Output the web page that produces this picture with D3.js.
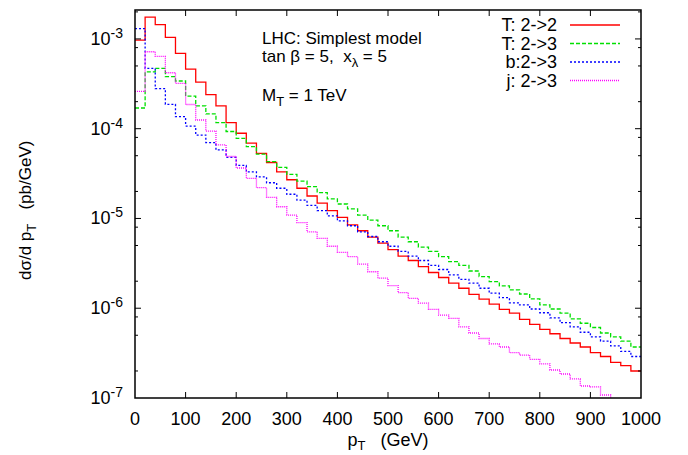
<!DOCTYPE html>
<html>
<head>
<meta charset="utf-8">
<script src="https://cdn.jsdelivr.net/npm/d3@7"></script>
<style>
  body { margin: 0; background: #fff; }
  text { font-family: "Liberation Sans", Arial, Helvetica, sans-serif; fill: #000; white-space: pre; }
</style>
</head>
<body>
<svg id="chart" width="688" height="455"></svg>
<script>

// pT histograms, 20 GeV bins from 0 to 1000 GeV (pb/GeV)
var binLow = d3.range(0, 1000, 20);
var binWidth = 20;

var tt22 = [9.7e-4, 1.75e-3, 1.44e-3, 1.04e-3, 6.9e-4, 4.6e-4, 3.3e-4, 2.4e-4, 1.8e-4, 1.17e-4,
  8.9e-5, 6.9e-5, 5.3e-5, 4.2e-5, 3.3e-5, 2.7e-5, 2.17e-5, 1.78e-5, 1.48e-5, 1.22e-5,
  1.03e-5, 8.5e-6, 7.3e-6, 6.2e-6, 5.3e-6, 4.5e-6, 3.8e-6, 3.4e-6, 2.9e-6, 2.5e-6,
  2.2e-6, 1.9e-6, 1.67e-6, 1.43e-6, 1.26e-6, 1.11e-6, 9.7e-7, 8.8e-7, 7.5e-7, 6.6e-7,
  5.8e-7, 5.2e-7, 4.6e-7, 4.1e-7, 3.7e-7, 3.2e-7, 2.9e-7, 2.5e-7, 2.3e-7, 2.0e-7];

var tt23 = [1.7e-4, 4.3e-4, 4.7e-4, 3.8e-4, 3.4e-4, 2.3e-4, 1.8e-4, 1.46e-4, 1.17e-4, 9.3e-5,
  7.8e-5, 6.3e-5, 5.2e-5, 4.3e-5, 3.7e-5, 3.1e-5, 2.6e-5, 2.26e-5, 1.94e-5, 1.65e-5,
  1.45e-5, 1.28e-5, 1.09e-5, 9.6e-6, 8.3e-6, 7.3e-6, 6.2e-6, 5.5e-6, 4.8e-6, 4.3e-6,
  3.75e-6, 3.3e-6, 3.0e-6, 2.6e-6, 2.25e-6, 1.98e-6, 1.77e-6, 1.6e-6, 1.44e-6, 1.27e-6,
  1.09e-6, 9.8e-7, 8.8e-7, 7.6e-7, 6.8e-7, 6.1e-7, 5.3e-7, 4.8e-7, 4.3e-7, 3.7e-7];

var bj23 = [1.3e-3, 4.7e-4, 2.8e-4, 1.87e-4, 1.36e-4, 1.07e-4, 8.5e-5, 7.0e-5, 5.8e-5, 4.8e-5,
  3.9e-5, 3.3e-5, 2.9e-5, 2.5e-5, 2.17e-5, 1.86e-5, 1.6e-5, 1.4e-5, 1.22e-5, 1.07e-5,
  9.4e-6, 8.3e-6, 7.1e-6, 6.3e-6, 5.5e-6, 4.9e-6, 4.3e-6, 3.8e-6, 3.4e-6, 3.0e-6,
  2.7e-6, 2.35e-6, 2.1e-6, 1.9e-6, 1.67e-6, 1.47e-6, 1.31e-6, 1.15e-6, 1.09e-6, 9.8e-7,
  8.9e-7, 7.8e-7, 6.9e-7, 6.2e-7, 5.4e-7, 4.8e-7, 4.3e-7, 3.8e-7, 3.3e-7, 2.9e-7];

// last bins fall below the plotted range
var jj23 = [2.6e-4, 7.2e-4, 6.4e-4, 4.2e-4, 3.2e-4, 1.86e-4, 1.25e-4, 9.4e-5, 6.6e-5, 4.9e-5,
  3.65e-5, 2.8e-5, 2.2e-5, 1.72e-5, 1.35e-5, 1.09e-5, 9.0e-6, 7.1e-6, 6.0e-6, 4.9e-6,
  4.2e-6, 3.75e-6, 3.1e-6, 2.55e-6, 2.16e-6, 1.79e-6, 1.49e-6, 1.29e-6, 1.14e-6, 9.7e-7,
  8.4e-7, 7.7e-7, 6.2e-7, 5.3e-7, 4.6e-7, 4.0e-7, 3.7e-7, 3.2e-7, 3.0e-7, 2.7e-7,
  2.4e-7, 2.05e-7, 1.85e-7, 1.63e-7, 1.36e-7, 1.33e-7, 1.08e-7, null, null, null];

var legendLabels = ["T: 2->2", "T: 2->3", "b:2->3", "j: 2->3"];
var xTicks = d3.range(0, 1001, 100);
var yTicks = [1e-7, 1e-6, 1e-5, 1e-4, 1e-3];

var series = [
  {label: legendLabels[0], values: tt22, color: "#ff0000", dash: null},
  {label: legendLabels[1], values: tt23, color: "#00e000", dash: "4,2"},
  {label: legendLabels[2], values: bj23, color: "#0000ff", dash: "2,2"},
  {label: legendLabels[3], values: jj23, color: "#ff00ff", dash: "1,1"}
];

var svg = d3.select("#chart"),
    margin = {top: 10, right: 47, bottom: 57, left: 135},
    width = +svg.attr("width") - margin.left - margin.right,
    height = +svg.attr("height") - margin.top - margin.bottom;

var x = d3.scaleLinear().domain([0, 1000]).range([margin.left, margin.left + width]);
var y = d3.scaleLog().domain([1e-7, 2.1e-3]).range([margin.top + height, margin.top]);

svg.append("defs").append("clipPath").attr("id", "plotclip")
  .append("rect")
    .attr("x", margin.left).attr("y", margin.top)
    .attr("width", width).attr("height", height);

// histogram step lines
function stepPoints(values) {
  var pts = [];
  for (var i = 0; i < values.length; i++) {
    if (values[i] == null) {
      // drop out of the bottom of the frame
      if (pts.length) pts.push([binLow[i], y.domain()[0] / 2]);
      break;
    }
    pts.push([binLow[i], values[i]]);
    pts.push([binLow[i] + binWidth, values[i]]);
  }
  return pts;
}

var line = d3.line().x(d => x(d[0])).y(d => y(d[1]));

svg.append("g")
    .attr("clip-path", "url(#plotclip)")
  .selectAll("path")
  .data(series)
  .join("path")
    .attr("d", d => line(stepPoints(d.values)))
    .attr("fill", "none")
    .attr("stroke", d => d.color)
    .attr("stroke-width", 1.3)
    .attr("stroke-dasharray", d => d.dash);

// frame and ticks on all four sides
var frame = svg.append("g");
frame.append("rect")
    .attr("x", margin.left).attr("y", margin.top)
    .attr("width", width).attr("height", height)
    .attr("fill", "none").attr("stroke", "#000").attr("stroke-width", 1.5);

var minorTicks = [];
[-7, -6, -5, -4, -3].forEach(function(e) {
  [2, 5, 8].forEach(function(m) {
    var v = m * Math.pow(10, e);
    if (v < y.domain()[1]) minorTicks.push(v);
  });
});

frame.selectAll(".xt")
  .data(xTicks.slice(1, -1))
  .join("path")
    .attr("d", d => "M" + x(d) + "," + (margin.top + height) + "v-6M" + x(d) + "," + margin.top + "v6")
    .attr("stroke", "#000").attr("stroke-width", 1);

frame.selectAll(".yt")
  .data(yTicks.slice(1))
  .join("path")
    .attr("d", d => "M" + margin.left + "," + y(d) + "h6M" + (margin.left + width) + "," + y(d) + "h-6")
    .attr("stroke", "#000").attr("stroke-width", 1);

frame.selectAll(".ym")
  .data(minorTicks)
  .join("path")
    .attr("d", d => "M" + margin.left + "," + y(d) + "h3M" + (margin.left + width) + "," + y(d) + "h-3")
    .attr("stroke", "#000").attr("stroke-width", 1);

// tick labels
svg.append("g").selectAll("text")
  .data(xTicks)
  .join("text")
    .attr("x", d => x(d))
    .attr("y", 425)
    .attr("text-anchor", "middle")
    .style("font-size", "18px")
    .text(d => d);

var yLab = svg.append("g").selectAll("text")
  .data(yTicks)
  .join("text")
    .attr("x", 123)
    .attr("y", d => y(d) + 6)
    .attr("text-anchor", "end")
    .style("font-size", "18px");
yLab.append("tspan").text("10");
yLab.append("tspan")
    .attr("dy", -7)
    .style("font-size", "14px")
    .text(d => "-" + Math.round(-Math.log10(d)));

// axis titles
var xt = svg.append("text")
    .attr("x", 388).attr("y", 446)
    .attr("text-anchor", "middle")
    .style("font-size", "18px");
xt.append("tspan").text("p");
xt.append("tspan").attr("dy", 4).style("font-size", "13px").text("T");
xt.append("tspan").attr("dy", -4).text("   (GeV)");

var yt = svg.append("text")
    .attr("transform", "translate(31,280) rotate(-90)")
    .attr("text-anchor", "start")
    .style("font-size", "17px");
yt.append("tspan").text("d\u03c3/d p");
yt.append("tspan").attr("dy", 5).style("font-size", "13px").text("T");
yt.append("tspan").attr("dy", -5).text("   (pb/GeV)");

// annotations
svg.append("text").attr("x", 262).attr("y", 44).style("font-size", "17px")
    .text("LHC: Simplest model");
var ann2 = svg.append("text").attr("x", 262).attr("y", 62).style("font-size", "17px");
ann2.append("tspan").text("tan \u03b2 = 5,  x");
ann2.append("tspan").attr("dy", 5).style("font-size", "13px").text("\u03bb");
ann2.append("tspan").attr("dy", -5).text(" = 5");
var ann3 = svg.append("text").attr("x", 262).attr("y", 101).style("font-size", "17px");
ann3.append("tspan").text("M");
ann3.append("tspan").attr("dy", 5).style("font-size", "13px").text("T");
ann3.append("tspan").attr("dy", -5).text(" = 1 TeV");

// legend
var legend = svg.append("g").selectAll("g")
  .data(series)
  .join("g")
    .attr("transform", (d, i) => "translate(0," + (25 + i * 18.5) + ")");
legend.append("text")
    .attr("x", 557).attr("y", 6)
    .attr("text-anchor", "end")
    .style("font-size", "18px")
    .text(d => d.label);
legend.append("line")
    .attr("x1", 570).attr("x2", 620)
    .attr("stroke", d => d.color)
    .attr("stroke-width", 1.3)
    .attr("stroke-dasharray", d => d.dash);

</script>
</body>
</html>
